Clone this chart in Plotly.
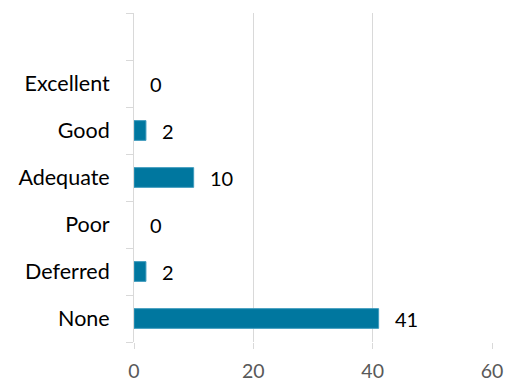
import plotly.graph_objects as go

categories = ["None", "Deferred", "Poor", "Adequate", "Good", "Excellent", " "]
values = [41, 2, 0, 10, 2, 0, None]
x_ticks = [0, 20, 40, 60]

FONT = "Lato"
SIZE = 21.5
NUM = 20
BAR = "#00779F"
GRID = "#D9D9D9"

fig = go.Figure()
fig.add_trace(go.Bar(
    y=categories, x=values, orientation="h",
    marker=dict(color=BAR,
                line=dict(color="#3E9BBD",
                          width=[1 if (v or 0) > 0 else 0 for v in values])),
    width=0.42, hoverinfo="skip",
))

for c, v in zip(categories, values):
    if v is None:
        continue
    fig.add_annotation(x=v, y=c, text=str(v), showarrow=False,
                       xanchor="left", xshift=14,
                       font=dict(family=FONT, size=NUM, color="#000000"))

# page has an 8px body margin, so the figure is sized/offset to compensate
fig.update_layout(
    width=505, height=372,
    margin=dict(l=126, r=21, t=5, b=38, autoexpand=False),
    paper_bgcolor="white", plot_bgcolor="white",
    showlegend=False,
    font=dict(family=FONT, size=SIZE, color="#000000"),
    xaxis=dict(range=[0, 60], tickvals=x_ticks, showgrid=True, gridcolor=GRID,
               gridwidth=1, zeroline=False, showline=False, automargin=False,
               ticks="outside", ticklen=6, tickcolor=GRID,
               tickfont=dict(family=FONT, size=19.5, color="#595959"),
               ticklabelstandoff=6),
    yaxis=dict(type="category", categoryorder="array", categoryarray=categories,
               showline=True, linecolor=GRID, linewidth=1, automargin=False,
               ticks="outside", ticklen=7, tickcolor=GRID, tickson="boundaries",
               showgrid=False, zeroline=False,
               tickfont=dict(family=FONT, size=SIZE, color="#000000"),
               ticklabelstandoff=19),
    bargap=0.58,
)

fig.write_html("out.html")
